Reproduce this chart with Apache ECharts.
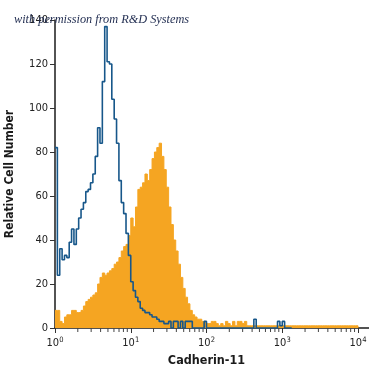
<!DOCTYPE html>
<html>
<head>
<meta charset="utf-8">
<script src="https://cdn.jsdelivr.net/npm/echarts@6/dist/echarts.min.js"></script>
<style>
html,body{margin:0;padding:0;background:#fff;}
#chart{width:375px;height:375px;}
</style>
</head>
<body>
<div id="chart"></div>
<script>
// Histogram channels: 32 bins per decade, from 10^0 to 10^4
const binsPerDecade = 32;
const xDecades = [0, 1, 2, 3, 4];
const yTicks = [0, 20, 40, 60, 80, 100, 120, 140];

// Isotype control (blue outline)
const controlCounts = [
  82, 24, 36, 31, 33, 32, 39, 45, 38, 45,
  50, 54, 57, 62, 63, 66, 70, 78, 91, 84,
  112, 137, 121, 120, 104, 95, 84, 67, 57, 52,
  43, 33, 21, 17, 14, 12, 9, 8, 7, 7,
  6, 5, 5, 4, 3, 3, 2, 2, 3, 0,
  3, 3, 0, 3, 0, 3, 3, 3, 0, 0,
  0, 0, 0, 3, 0, 0, 0, 0, 0, 0,
  0, 0, 0, 0, 0, 0, 0, 0, 0, 0,
  0, 0, 0, 0, 4, 0, 0, 0, 0, 0,
  0, 0, 0, 0, 3, 1, 3, 0, 0, 0
];

// Cadherin-11 stained (orange filled)
const stainedCounts = [
  8, 8, 3, 2, 5, 6, 6, 8, 8, 7,
  7, 8, 10, 12, 13, 14, 15, 16, 20, 23,
  25, 24, 25, 26, 27, 29, 30, 32, 35, 37,
  38, 42, 50, 46, 55, 63, 64, 66, 70, 67,
  72, 77, 80, 82, 84, 78, 72, 64, 55, 47,
  40, 35, 29, 23, 18, 14, 11, 8, 6, 5,
  4, 4, 3, 3, 2, 2, 3, 3, 2, 1,
  2, 1, 3, 2, 1, 3, 1, 3, 3, 2,
  3, 1, 1, 1, 1, 1, 1, 1, 1, 1,
  1, 1, 1, 1, 1, 1, 1, 1, 1, 1,
  1, 1, 1, 1, 1, 1, 1, 1, 1, 1,
  1, 1, 1, 1, 1, 1, 1, 1, 1, 1,
  1, 1, 1, 1, 1, 1, 1, 1
];

const minorMultipliers = [2, 3, 4, 5, 6, 7, 8, 9];

function toSteps(counts) {
  const pts = counts.map((c, i) => [Math.pow(10, i / binsPerDecade), c]);
  pts.push([Math.pow(10, counts.length / binsPerDecade), 0]);
  return pts;
}

const minorTickValues = [];
for (let d = 0; d < xDecades.length - 1; d++) {
  minorMultipliers.forEach(m => minorTickValues.push([m * Math.pow(10, xDecades[d]), 0]));
}

const narrow = '"Liberation Sans Narrow","DejaVu Sans Condensed",sans-serif';
const chart = echarts.init(document.getElementById('chart'));
chart.setOption({
  animation: false,
  backgroundColor: '#ffffff',
  title: {
    text: 'with permission from R&D Systems',
    left: 9, top: 9,
    textStyle: {fontFamily: '"Liberation Serif",serif', fontStyle: 'italic', fontWeight: 'normal', fontSize: 12.3, color: '#1f2b4f'}
  },
  grid: {left: 55, right: 17, top: 20, bottom: 47, containLabel: false, outerBoundsMode: 'none'},
  xAxis: {
    type: 'log', logBase: 10,
    min: Math.pow(10, xDecades[0]), max: Math.pow(10, xDecades[xDecades.length - 1]),
    name: 'Cadherin-11', nameLocation: 'middle', nameGap: 26,
    nameTextStyle: {fontFamily: narrow, fontWeight: 'bold', fontSize: 12.5, color: '#1a1a1a'},
    axisLine: {lineStyle: {color: '#1a1a1a', width: 1.5}},
    axisTick: {length: 5, lineStyle: {color: '#333'}},
    splitLine: {show: false},
    axisLabel: {
      margin: 8,
      formatter: v => '{b|10}{s|' + Math.round(Math.log10(v)) + '}',
      rich: {
        b: {fontFamily: narrow, fontSize: 11, color: '#222', verticalAlign: 'bottom', lineHeight: 13},
        s: {fontFamily: narrow, fontSize: 7.5, color: '#222', verticalAlign: 'top', lineHeight: 13}
      }
    }
  },
  yAxis: {
    type: 'value', min: yTicks[0], max: yTicks[yTicks.length - 1], interval: 20,
    name: 'Relative Cell Number', nameLocation: 'middle', nameGap: 39,
    nameTextStyle: {fontFamily: narrow, fontWeight: 'bold', fontSize: 12, color: '#1a1a1a'},
    axisLine: {show: true, lineStyle: {color: '#1a1a1a', width: 1.5}},
    axisTick: {show: true, length: 5, lineStyle: {color: '#333'}},
    splitLine: {show: false},
    axisLabel: {fontFamily: narrow, fontSize: 11, color: '#222', margin: 7}
  },
  graphic: [{
    type: 'line', shape: {x1: 358, y1: 328, x2: 369, y2: 328},
    style: {stroke: '#1a1a1a', lineWidth: 1.5}
  }],
  series: [
    {
      type: 'line', step: 'end', showSymbol: false, data: toSteps(stainedCounts),
      lineStyle: {color: '#f5a522', width: 1},
      areaStyle: {color: '#f5a522', opacity: 1},
      z: 2
    },
    {
      type: 'line', step: 'end', showSymbol: false, data: toSteps(controlCounts),
      lineStyle: {color: '#17578a', width: 1.6},
      z: 3
    },
    {
      type: 'custom', silent: true, data: minorTickValues, z: 1,
      renderItem: (params, api) => {
        const p = api.coord([api.value(0), 0]);
        return {type: 'line', shape: {x1: p[0], y1: p[1], x2: p[0], y2: p[1] + 4}, style: {stroke: '#444', lineWidth: 1}};
      }
    }
  ]
});
</script>
</body>
</html>
